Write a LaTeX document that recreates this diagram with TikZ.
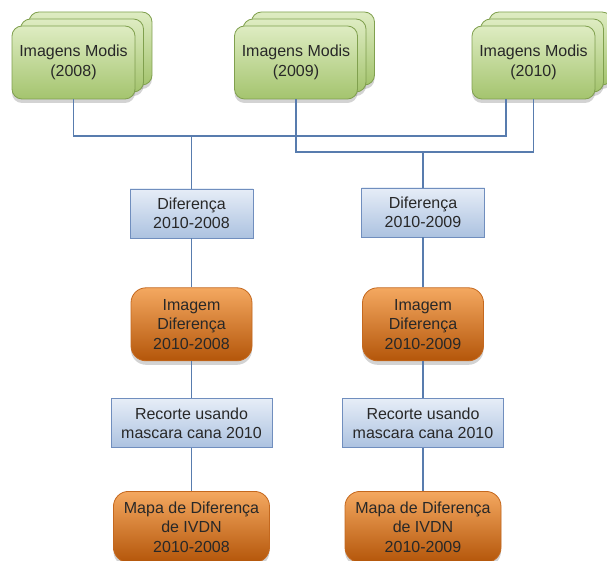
\documentclass[tikz,border=0pt]{standalone}
\usepackage{fontspec}
\setmainfont{Liberation Sans}
\usetikzlibrary{positioning,shadows}
\definecolor{greentop}{RGB}{222,236,194}
\definecolor{greenbot}{RGB}{164,196,110}
\definecolor{greenedge}{RGB}{128,160,78}
\definecolor{bluetop}{RGB}{230,237,247}
\definecolor{bluebot}{RGB}{172,194,224}
\definecolor{blueedge}{RGB}{112,142,190}
\definecolor{orangetop}{RGB}{244,168,96}
\definecolor{orangemid}{RGB}{230,118,24}
\definecolor{orangebot}{RGB}{180,86,10}
\definecolor{orangeedge}{RGB}{196,104,30}
\definecolor{linkblue}{RGB}{88,124,174}
\definecolor{darktext}{RGB}{40,40,40}
\newcommand{\boxfont}{\fontsize{16}{19.5}\selectfont}
\tikzset{
  modis/.style={rectangle, rounded corners=10pt, draw=greenedge, thick, top color=greentop, bottom color=greenbot,
                minimum width=123pt, minimum height=73pt, align=center, font=\boxfont, text=darktext,
                drop shadow={shadow xshift=0pt, shadow yshift=-4pt, opacity=0.35}},
  procbox/.style={rectangle, draw=blueedge, thick, top color=bluetop, bottom color=bluebot,
                minimum height=49pt, inner sep=2pt, align=center, font=\boxfont, text=darktext},
  resultbox/.style={rectangle, rounded corners=15pt, draw=orangeedge, thick, top color=orangetop, middle color=orangemid,
                bottom color=orangebot, minimum height=73pt, inner sep=2pt, align=center, font=\boxfont, text=darktext,
                drop shadow={shadow xshift=0pt, shadow yshift=-4pt, opacity=0.35}},
  link/.style={draw=linkblue, line width=1.3pt},
}
\begin{document}
\begin{tikzpicture}[x=1pt,y=-1pt]
\useasboundingbox (0,0) rectangle (607,561);
% stacked image sets
\foreach \name/\cx/\yr in {mod08/73.5/2008, mod09/296/2009, mod10/533.5/2010} {
  \node[modis] (\name-c) at (\cx+17,48.5) {};
  \node[modis] (\name-b) at (\cx+8.5,55.5) {};
  \node[modis] (\name) at (\cx,62.5) {Imagens Modis\\(\yr)};
}

% left column
\node[procbox, minimum width=123pt] (dif08) at (191.5,213.5) {Diferença\\2010-2008};
\node[resultbox, minimum width=121pt, below=49pt of dif08] (img08) {Imagem\\Diferença\\2010-2008};
\node[procbox, minimum width=161pt, below=37pt of img08] (rec08) {Recorte usando\\mascara cana 2010};
\node[resultbox, minimum width=156pt, minimum height=71pt, below=43pt of rec08] (map08) {Mapa de Diferença\\de IVDN\\2010-2008};

% right column
\node[procbox, minimum width=123pt] (dif09) at (423,212.5) {Diferença\\2010-2009};
\node[resultbox, minimum width=121pt, below=50pt of dif09] (img09) {Imagem\\Diferença\\2010-2009};
\node[procbox, minimum width=161pt, below=37pt of img09] (rec09) {Recorte usando\\mascara cana 2010};
\node[resultbox, minimum width=156pt, minimum height=71pt, below=43pt of rec09] (map09) {Mapa de Diferença\\de IVDN\\2010-2009};

% buses
\coordinate (busA) at (506,136);
\coordinate (busB) at (533.5,152);
\draw[link] (mod08.south) |- (busA) -- (busA |- mod10.south);
\draw[link] (mod09.south) |- (busB) -- (mod10.south);
\draw[link] (dif08.north) -- (dif08.north |- busA);
\draw[link] (dif09.north) -- (dif09.north |- busB);

\draw[link] (dif08) -- (img08);
\draw[link] (img08) -- (rec08);
\draw[link] (rec08) -- (map08);
\draw[link] (dif09) -- (img09);
\draw[link] (img09) -- (rec09);
\draw[link] (rec09) -- (map09);
\end{tikzpicture}
\end{document}
